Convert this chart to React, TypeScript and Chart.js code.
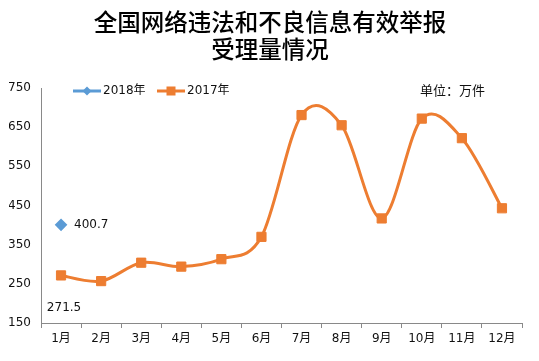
import React, { useEffect, useRef } from "react";
import { Chart, registerables } from "chart.js";

Chart.register(...registerables);

const months = ["1月", "2月", "3月", "4月", "5月", "6月", "7月", "8月", "9月", "10月", "11月", "12月"];
const series2018 = [400.7, null, null, null, null, null, null, null, null, null, null, null];
const series2017 = [271.5, 257, 304, 294, 313, 370, 681, 655, 417, 672, 622, 443];
const yTicks = [150, 250, 350, 450, 550, 650, 750];
const titleLines = ["全国网络违法和不良信息有效举报", "受理量情况"];
const unitText = "单位：万件";
const legendNames = ["2018年", "2017年"];

const BLUE = "#5B9BD5";
const ORANGE = "#ED7D31";
const FONT = "'DejaVu Sans', 'Noto Sans CJK SC', sans-serif";

// Excel-like smoothing (Catmull-Rom, 1/6) applied to Chart.js' own line control points
const smoothPlugin = {
  id: "excelSmooth",
  beforeDatasetDraw(chart: any, args: any) {
    const meta = args.meta;
    if (!meta || !meta.dataset || meta.index !== 1) return;
    const pts = meta.dataset.points;
    const n = pts.length;
    for (let i = 0; i < n; i++) {
      const p = pts[i];
      const prev = pts[Math.max(0, i - 1)];
      const next = pts[Math.min(n - 1, i + 1)];
      const dx = (next.x - prev.x) / 6;
      const dy = (next.y - prev.y) / 6;
      p.cp1x = p.x - dx;
      p.cp1y = p.y - dy;
      p.cp2x = p.x + dx;
      p.cp2y = p.y + dy;
    }
  },
};

const overlayPlugin = {
  id: "overlay",
  afterDraw(chart: any) {
    const ctx = chart.ctx;
    const xs = chart.scales.x;
    const ys = chart.scales.y;
    ctx.save();
    ctx.fillStyle = "#111";
    ctx.font = `12px ${FONT}`;
    ctx.textBaseline = "middle";
    const x0 = xs.getPixelForValue(0);
    ctx.textAlign = "left";
    ctx.fillText(String(series2018[0]), x0 + 13, ys.getPixelForValue(series2018[0] as number));
    ctx.textAlign = "center";
    ctx.fillText(String(series2017[0]), x0 + 3, ys.getPixelForValue(series2017[0]) + 32);
    ctx.font = `13px ${FONT}`;
    ctx.textAlign = "left";
    ctx.fillText(unitText, 420, 92);
    const items = [
      { name: legendNames[0], color: BLUE, style: "diamond", x: 73 },
      { name: legendNames[1], color: ORANGE, style: "square", x: 157 },
    ];
    const ly = 91;
    items.forEach((it) => {
      ctx.strokeStyle = it.color;
      ctx.lineWidth = 3;
      ctx.beginPath();
      ctx.moveTo(it.x, ly);
      ctx.lineTo(it.x + 28, ly);
      ctx.stroke();
      ctx.fillStyle = it.color;
      const cx = it.x + 14;
      if (it.style === "diamond") {
        ctx.beginPath();
        ctx.moveTo(cx, ly - 4.5);
        ctx.lineTo(cx + 4.5, ly);
        ctx.lineTo(cx, ly + 4.5);
        ctx.lineTo(cx - 4.5, ly);
        ctx.closePath();
        ctx.fill();
      } else {
        ctx.fillRect(cx - 4.5, ly - 4.5, 9, 9);
      }
      ctx.fillStyle = "#111";
      ctx.font = `12px ${FONT}`;
      ctx.textAlign = "left";
      ctx.fillText(it.name, it.x + 30, ly);
    });
    ctx.restore();
  },
};

export default function App() {
  const ref = useRef<HTMLCanvasElement | null>(null);
  useEffect(() => {
    if (!ref.current) return;
    const chart = new Chart(ref.current, {
      type: "line",
      data: {
        labels: months,
        datasets: [
          {
            label: legendNames[0],
            data: series2018,
            borderColor: BLUE,
            backgroundColor: BLUE,
            pointStyle: "rectRot",
            pointRadius: 4.2,
            borderWidth: 3,
          },
          {
            label: legendNames[1],
            data: series2017,
            borderColor: ORANGE,
            backgroundColor: ORANGE,
            pointStyle: "rect",
            pointRadius: 6.5,
            pointBorderWidth: 1,
            borderWidth: 3,
            tension: 0.4,
          },
        ],
      },
      options: {
        animation: false,
        responsive: false,
        maintainAspectRatio: false,
        layout: { padding: { left: 9, right: 8, top: 0, bottom: 0 } },
        plugins: {
          legend: { display: false },
          tooltip: { enabled: false },
          title: {
            display: true,
            text: titleLines,
            color: "#000",
            font: { family: "'Noto Sans CJK SC', sans-serif", size: 23.5, weight: "500", lineHeight: 1.15 },
            padding: { top: 9, bottom: 25 },
          },
        },
        scales: {
          x: {
            offset: true,
            grid: { drawOnChartArea: false, drawTicks: true, tickLength: 5, offset: true, color: "#898989" },
            border: { color: "#898989", width: 1 },
            ticks: { color: "#111", font: { family: FONT, size: 12 }, padding: 4, maxRotation: 0, autoSkip: false },
            afterFit: (s: any) => { s.height = 38; },
          },
          y: {
            min: 150,
            max: 750,
            afterBuildTicks: (s: any) => { s.ticks = yTicks.map((v) => ({ value: v })); },
            grid: { drawOnChartArea: false, drawTicks: false },
            border: { color: "#898989", width: 1 },
            ticks: { color: "#111", font: { family: FONT, size: 12 }, padding: 10 },
            afterFit: (s: any) => { s.width = 32; },
          },
          yRight: {
            position: "right",
            display: true,
            min: 150,
            max: 750,
            grid: { display: false, drawTicks: false },
            border: { display: false },
            ticks: { display: false },
            afterFit: (s: any) => { s.width = 9; },
          },
        },
      },
      plugins: [smoothPlugin, overlayPlugin],
    });
    return () => chart.destroy();
  }, []);
  return (
    <div style={{ position: "fixed", left: 0, top: 0, width: 539, height: 361, background: "#fff" }}>
      <canvas ref={ref} width={539} height={361} style={{ width: 539, height: 361 }} />
    </div>
  );
}
